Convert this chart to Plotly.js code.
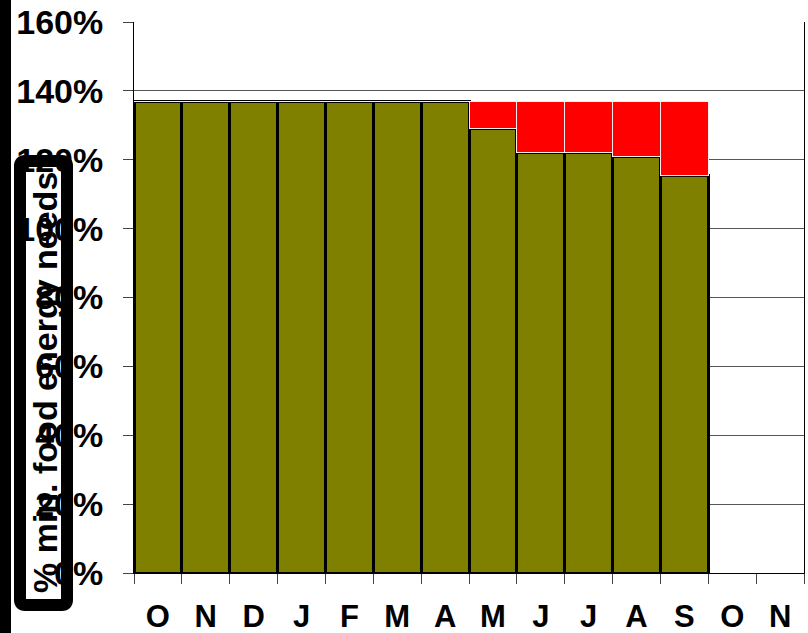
<!DOCTYPE html>
<html>
<head>
<meta charset="utf-8">
<script src="https://cdn.plot.ly/plotly-3.0.1.min.js"></script>
<style>
html,body{margin:0;padding:0;background:#fff;}
#chart{width:808px;height:633px;}
</style>
</head>
<body>
<div id="chart"></div>
<script>
// Data
var months = ["O","N","D","J","F","M","A","M","J","J","A","S","O","N"];
var foodMet = [137,137,137,137,137,137,137,129,122,122,121,115.5,null,null];
var deficit = [0,0,0,0,0,0,0,8,15,15,16,21.5,null,null];
var yTicks = [0,20,40,60,80,100,120,140,160];
var yTitle = "% min. food energy needs";

var idx = months.map(function(_, i){ return i; });
var bounds = [];
for (var b = 0; b <= months.length; b++) bounds.push(b - 0.5);

// pixel -> paper helpers (plot area: x 134..804, y 22..573)
function px(x){ return (x - 134) / 670; }
function py(y){ return (573 - y) / 551; }

var traces = [
  {
    type: "bar", x: idx, y: foodMet, name: "met",
    marker: {color: "#808000", line: {color: "#000000", width: 3}},
    hoverinfo: "skip"
  },
  {
    type: "bar", x: idx, y: deficit, name: "deficit",
    marker: {color: "#FF0000", line: {color: "rgba(255,235,235,1)", width: 1}},
    hoverinfo: "skip"
  }
];

// rounded box path around the y title
var bx0 = 20, bx1 = 67, by0 = 161, by1 = 605, r = 5;
var boxPath = "M " + px(bx0 + r) + " " + py(by0) +
  " L " + px(bx1 - r) + " " + py(by0) +
  " Q " + px(bx1) + " " + py(by0) + " " + px(bx1) + " " + py(by0 + r) +
  " L " + px(bx1) + " " + py(by1 - r) +
  " Q " + px(bx1) + " " + py(by1) + " " + px(bx1 - r) + " " + py(by1) +
  " L " + px(bx0 + r) + " " + py(by1) +
  " Q " + px(bx0) + " " + py(by1) + " " + px(bx0) + " " + py(by1 - r) +
  " L " + px(bx0) + " " + py(by0 + r) +
  " Q " + px(bx0) + " " + py(by0) + " " + px(bx0 + r) + " " + py(by0) + " Z";

var layout = {
  width: 808, height: 633,
  margin: {l: 134, r: 4, t: 22, b: 60},
  paper_bgcolor: "#ffffff", plot_bgcolor: "#ffffff",
  barmode: "stack", bargap: 0,
  showlegend: false,
  font: {family: "Liberation Sans, Arial, sans-serif", color: "#000"},
  xaxis: {
    range: [-0.5, months.length - 0.5],
    tickmode: "array", tickvals: idx, ticktext: months,
    ticks: "", ticklen: 0,
    ticklabelstandoff: 16,
    tickfont: {size: 31, family: "Liberation Sans, Arial, sans-serif", weight: "bold"},
    showgrid: false, zeroline: false,
    showline: true, linecolor: "#000", linewidth: 1, mirror: false,
    minor: {tickmode: "array", tickvals: bounds, ticks: "outside", ticklen: 10, tickcolor: "#444", tickwidth: 1, showgrid: false},
    fixedrange: true
  },
  yaxis: {
    range: [0, 160],
    tickmode: "array", tickvals: yTicks, ticktext: yTicks.map(function(v){return v + "%";}),
    ticks: "outside", ticklen: 10, tickcolor: "#444", tickwidth: 1,
    ticklabelstandoff: 13,
    tickfont: {size: 34, family: "Liberation Sans, Arial, sans-serif", weight: "bold"},
    showgrid: true, gridcolor: "#555", gridwidth: 1,
    zeroline: false,
    showline: true, linecolor: "#000", linewidth: 1, mirror: true,
    fixedrange: true
  },
  shapes: [
    {type: "rect", xref: "paper", yref: "paper", x0: px(-10), x1: px(11), y0: py(650), y1: py(-10),
     fillcolor: "#000", line: {width: 0}, layer: "above"},
    {type: "path", xref: "paper", yref: "paper", path: boxPath,
     fillcolor: "rgba(0,0,0,0)", line: {color: "#000", width: 12}, layer: "above"}
  ],
  annotations: [
    {
      xref: "paper", yref: "paper", x: px(45), y: py(383),
      xanchor: "center", yanchor: "middle",
      text: yTitle, textangle: -90, showarrow: false,
      font: {size: 34, family: "Liberation Sans, Arial, sans-serif", color: "#000", weight: "bold"}
    }
  ]
};

Plotly.newPlot("chart", traces, layout, {displayModeBar: false, staticPlot: true});
</script>
</body>
</html>
